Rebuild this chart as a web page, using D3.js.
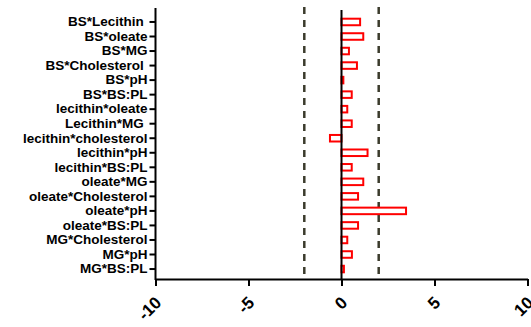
<!DOCTYPE html>
<html>
<head>
<meta charset="utf-8">
<script src="https://cdn.jsdelivr.net/npm/d3@7/dist/d3.min.js"></script>
<style>
  html, body { margin: 0; padding: 0; background: #fff; }
  svg { display: block; }
  text { font-family: "Liberation Sans", Arial, sans-serif; font-weight: bold; fill: #000; }
  .ylab text { white-space: pre; }
</style>
</head>
<body>
<svg id="chart" width="531" height="327"></svg>
<script>
const categories = [
  "BS*Lecithin ", "BS*oleate", "BS*MG", "BS*Cholesterol ", "BS*pH", "BS*BS:PL",
  "lecithin*oleate", "Lecithin*MG ", "lecithin*cholesterol", "lecithin*pH",
  "lecithin*BS:PL", "oleate*MG", "oleate*Cholesterol", "oleate*pH",
  "oleate*BS:PL", "MG*Cholesterol", "MG*pH", "MG*BS:PL"
];
const values = [
  1.00, 1.17, 0.40, 0.83, 0.10, 0.55,
  0.31, 0.55, -0.62, 1.40,
  0.55, 1.17, 0.89, 3.47,
  0.89, 0.31, 0.56, 0.13
];
const xTicks = [-10, -5, 0, 5, 10];
const thresholds = [-2, 2];

const svg = d3.select("#chart");
const xAxisY = 279;
const yTop = 8;

const x = d3.scaleLinear().domain([-10, 10]).range([155.5, 527.5]);
const pi = 0.55;
const y = d3.scaleBand().domain(categories).range([14.7, 276.3])
  .paddingInner(pi).paddingOuter(pi / 2);

// dashed threshold lines
svg.append("g").selectAll("line").data(thresholds).join("line")
  .attr("x1", d => x(d)).attr("x2", d => x(d))
  .attr("y1", 7).attr("y2", xAxisY - 2)
  .attr("stroke", "#3b3b2c").attr("stroke-width", 2.5)
  .attr("stroke-dasharray", "7,6");

// bars
svg.append("g").selectAll("rect").data(categories).join("rect")
  .attr("x", (d, i) => Math.min(x(0), x(values[i])))
  .attr("width", (d, i) => Math.abs(x(values[i]) - x(0)))
  .attr("y", d => y(d))
  .attr("height", y.bandwidth())
  .attr("fill", "#fff")
  .attr("stroke", "#ff0000")
  .attr("stroke-width", 2);

// zero line
svg.append("line")
  .attr("x1", x(0)).attr("x2", x(0))
  .attr("y1", 10).attr("y2", xAxisY)
  .attr("stroke", "#000").attr("stroke-width", 2);

// y axis
const yAxis = svg.append("g").attr("class", "ylab")
  .attr("transform", `translate(${x(-10)},0)`)
  .call(d3.axisLeft(y).tickSize(6).tickSizeOuter(0).tickPadding(2));
yAxis.select(".domain").remove();
yAxis.selectAll(".tick line").attr("stroke", "#000").attr("stroke-width", 2);
yAxis.selectAll(".tick text").attr("font-size", "13.5px")
  .style("font-family", "'Liberation Sans', Arial, sans-serif").style("font-weight", "bold");
yAxis.append("line").attr("x1", 0).attr("x2", 0).attr("y1", yTop).attr("y2", xAxisY + 1)
  .attr("stroke", "#000").attr("stroke-width", 2);

// x axis
const xAxis = svg.append("g")
  .attr("transform", `translate(0,${xAxisY})`)
  .call(d3.axisBottom(x).tickValues(xTicks).tickSize(7).tickSizeOuter(0).tickFormat(d => String(d)));
xAxis.select(".domain").attr("stroke", "#000").attr("stroke-width", 2);
xAxis.selectAll(".tick line").attr("stroke", "#000").attr("stroke-width", 2);
xAxis.selectAll(".tick text")
  .attr("font-size", "17px")
  .style("font-family", "'Liberation Sans', Arial, sans-serif").style("font-weight", "bold")
  .attr("text-anchor", "end")
  .attr("dominant-baseline", "central")
  .attr("dy", null)
  .attr("y", 0)
  .attr("transform", "translate(2.5,21) rotate(-45)");
</script>
</body>
</html>
